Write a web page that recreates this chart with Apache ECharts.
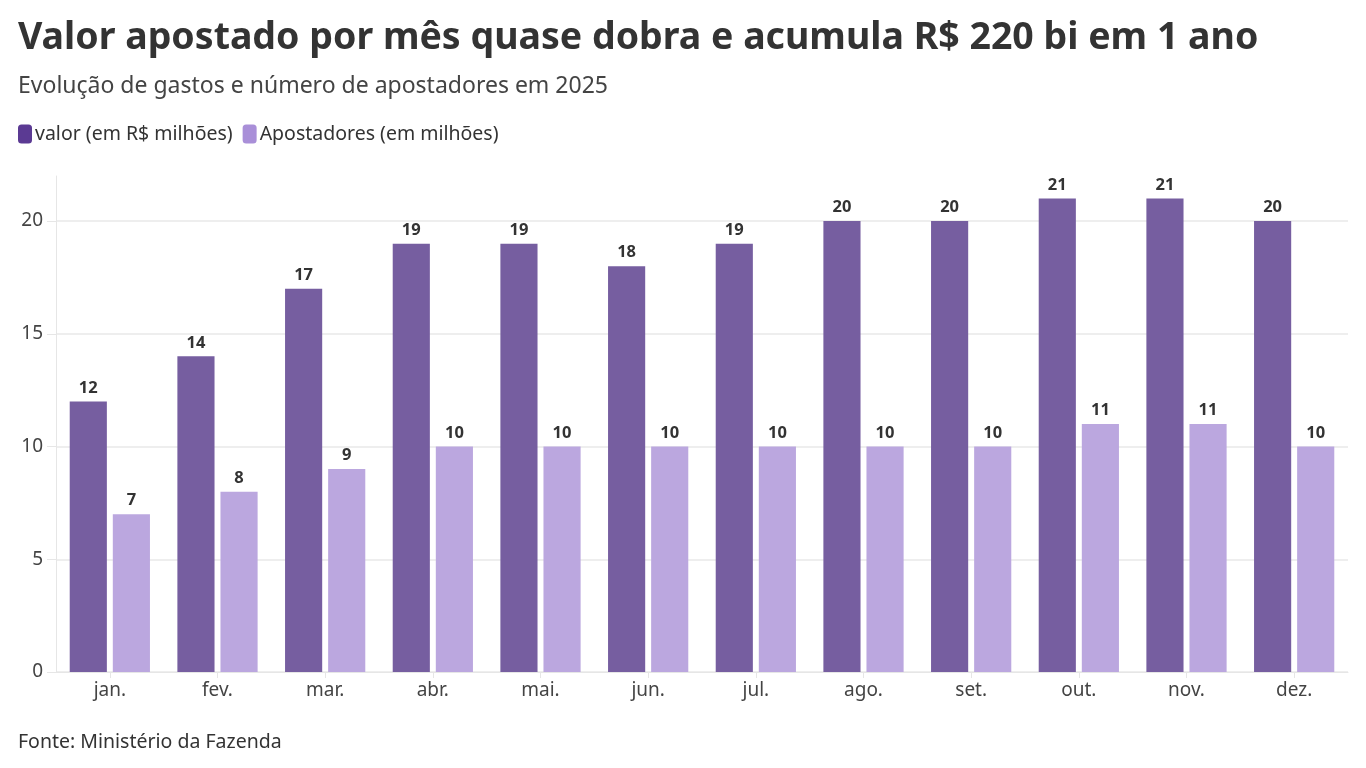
<!DOCTYPE html>
<html>
<head>
    <meta charset="utf-8">
    <title>Valor apostado por mês</title>
    <script type="text/javascript" src="https://cdn.jsdelivr.net/npm/echarts@6/dist/echarts.min.js"></script>
    <style>
        html, body { margin: 0; padding: 0; background: #fff; }
        #container { width: 1366px; height: 768px; }
    </style>
</head>
<body>
<div id="container"></div>
<script type="text/javascript">
    // dados
    var meses = ['jan.', 'fev.', 'mar.', 'abr.', 'mai.', 'jun.', 'jul.', 'ago.', 'set.', 'out.', 'nov.', 'dez.'];
    var valor = [12, 14, 17, 19, 19, 18, 19, 20, 20, 21, 21, 20];
    var apostadores = [7, 8, 9, 10, 10, 10, 10, 10, 10, 11, 11, 10];

    var fonte = '"Noto Sans", sans-serif';
    var dom = document.getElementById('container');
    var myChart = echarts.init(dom, null, { renderer: 'canvas' });

    var option = {
        animation: false,
        textStyle: { fontFamily: fonte },
        title: [
            {
                text: 'Valor apostado por mês quase dobra e acumula R$ 220 bi em 1 ano',
                left: 13, top: 14,
                textStyle: { fontFamily: fonte, fontSize: 37.5, fontWeight: 'bold', color: '#333333' }
            },
            {
                text: 'Evolução de gastos e número de apostadores em 2025',
                left: 13, top: 70,
                textStyle: { fontFamily: fonte, fontSize: 23, fontWeight: 'normal', color: '#444444' }
            },
            {
                text: 'Fonte: Ministério da Fazenda',
                left: 13, top: 727,
                textStyle: { fontFamily: fonte, fontSize: 19.5, fontWeight: 'normal', color: '#333333' }
            }
        ],
        legend: {
            left: 13, top: 119,
            itemWidth: 14, itemHeight: 19, itemGap: 10,
            icon: 'roundRect',
            textStyle: { fontFamily: fonte, fontSize: 19.5, color: '#333333', padding: [0, 0, 0, -2] },
            data: [
                { name: 'valor (em R$ milhões)', itemStyle: { color: '#5B3A93' } },
                { name: 'Apostadores (em milhões)', itemStyle: { color: '#A98FD8' } }
            ]
        },
        grid: { left: 56, right: 18, top: 176, bottom: 96 },
        xAxis: {
            type: 'category',
            data: meses,
            axisLine: { lineStyle: { color: '#e6e6e6', width: 1 } },
            axisTick: { show: true, alignWithLabel: true, length: 6, lineStyle: { color: '#e6e6e6' } },
            axisLabel: { fontFamily: fonte, fontSize: 19, color: '#444444', margin: 9 }
        },
        yAxis: {
            type: 'value',
            min: 0, max: 22, interval: 5,
            axisLine: { show: true, lineStyle: { color: '#e6e6e6' } },
            axisTick: { show: true, length: 9, lineStyle: { color: '#e6e6e6' } },
            axisLabel: {
                fontFamily: fonte, fontSize: 19, color: '#444444', margin: 13,
                showMaxLabel: false
            },
            splitLine: { showMaxLine: false, lineStyle: { color: '#e9e9e9', width: 1.5 } }
        },
        series: [
            {
                name: 'valor (em R$ milhões)',
                type: 'bar',
                data: valor,
                barWidth: '34.5%',
                barGap: '16%',
                itemStyle: { color: '#765EA0' },
                label: {
                    show: true, position: 'top', distance: 5,
                    fontFamily: fonte, fontSize: 16.5, fontWeight: 'bold', color: '#333333'
                }
            },
            {
                name: 'Apostadores (em milhões)',
                type: 'bar',
                data: apostadores,
                barWidth: '34.5%',
                itemStyle: { color: '#BBA7DF' },
                label: {
                    show: true, position: 'top', distance: 5,
                    fontFamily: fonte, fontSize: 16.5, fontWeight: 'bold', color: '#333333'
                }
            }
        ]
    };

    myChart.setOption(option);
    window.addEventListener('resize', myChart.resize);
</script>
</body>
</html>
